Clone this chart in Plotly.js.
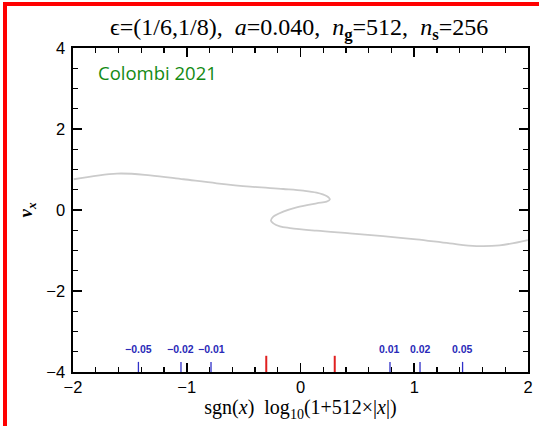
<!DOCTYPE html>
<html>
<head>
<meta charset="utf-8">
<script src="https://cdn.plot.ly/plotly-3.0.1.min.js"></script>
<style>
html,body{margin:0;padding:0;background:#fff;}
#wrap{position:relative;width:539px;height:426px;}
#chart{width:539px;height:426px;}
#frame{position:absolute;left:3px;top:2px;width:540px;height:430px;border-left:4px solid #ff0000;border-top:4px solid #ff0000;pointer-events:none;box-sizing:border-box;}
</style>
</head>
<body>
<div id="wrap"><div id="chart"></div><div id="frame"></div></div>
<script>
// Phase-space curve
const curveX = [-1.994,-1.614,-1.322,-1.029,-0.737,-0.444,-0.152,0.024,0.141,0.229,0.258,0.229,0.141,-0.034,-0.152,-0.239,-0.260,-0.239,-0.181,-0.093,0.141,0.434,0.726,1.019,1.311,1.545,1.750,1.998];
const curveY = [0.759,0.899,0.857,0.759,0.660,0.577,0.519,0.478,0.429,0.346,0.264,0.206,0.165,0.066,-0.041,-0.165,-0.264,-0.330,-0.404,-0.445,-0.511,-0.577,-0.644,-0.726,-0.824,-0.890,-0.874,-0.742];

// Reference marks on the x axis: values of x and their labels
const refValues = [-0.05,-0.02,-0.01,0.01,0.02,0.05];
const refLabels = ['\u22120.05','\u22120.02','\u22120.01','0.01','0.02','0.05'];
const cellValues = [-1/512, 1/512];
const ng = 512;

function mapX(v){ return Math.sign(v)*Math.log10(1+ng*Math.abs(v)); }

const blueX = [], blueY = [];
refValues.forEach(v=>{ const m=mapX(v); blueX.push(m,m,null); blueY.push(-4,-3.75,null); });
const redX = [], redY = [];
cellValues.forEach(v=>{ const m=mapX(v); redX.push(m,m,null); redY.push(-4,-3.6,null); });

const traces = [
  {x:curveX, y:curveY, mode:'lines', line:{color:'#cbcbcb', width:1.8, shape:'spline', smoothing:1}, hoverinfo:'skip'},
  {x:blueX, y:blueY, mode:'lines', line:{color:'#3030c8', width:1.3}, hoverinfo:'skip'},
  {x:redX, y:redY, mode:'lines', line:{color:'#e02020', width:2}, hoverinfo:'skip'}
];

const annotations = refValues.map((v,i)=>({
  x: mapX(v), y: -3.44, xref:'x', yref:'y', text:'<b>'+refLabels[i]+'</b>', showarrow:false,
  font:{family:'Liberation Sans, Arial, sans-serif', size:10.5, color:'#2a2ab8'}, xanchor:'center', yanchor:'middle'
}));
annotations.push({x:-1.80, y:3.39, xref:'x', yref:'y', text:'Colombi 2021', showarrow:false,
  font:{family:'Open Sans, Noto Sans, sans-serif', size:18.5, color:'#138a13'}, xanchor:'left', yanchor:'middle'});

const axisCommon = {
  showline:true, linecolor:'#000', linewidth:1.6, mirror:'ticks', ticks:'inside', ticklen:9, tickwidth:1.6, tickcolor:'#000',
  showgrid:false, zeroline:false, tickmode:'linear', tick0:0,
  tickfont:{family:'Liberation Sans, Arial, sans-serif', size:16.5, color:'#000'}
};

const layout = {
  width:539, height:426,
  margin:{l:73, r:10.5, t:48, b:54},
  paper_bgcolor:'#fff', plot_bgcolor:'#fff',
  showlegend:false,
  title:{text:'\u03f5=(1/6,1/8),\u00a0\u00a0<i>a</i>=0.040,\u00a0\u00a0<i>n</i><sub><b>g</b></sub>=512,\u00a0\u00a0<i>n</i><sub><b>s</b></sub>=256',
    font:{family:'Liberation Serif, DejaVu Serif, serif', size:24, color:'#000'}, x:0.555, xanchor:'center', y:0.938, yanchor:'middle'},
  xaxis:Object.assign({}, axisCommon, {range:[-2,2], dtick:1,
    minor:{tickmode:'linear', dtick:0.2, tick0:0, ticks:'inside', ticklen:5, tickwidth:1.4, tickcolor:'#000'},
    title:{text:'sgn(<i>x</i>)\u00a0\u00a0log<sub>10</sub>(1+512\u00d7|<i>x</i>|)', font:{family:'Liberation Serif, DejaVu Serif, serif', size:20, color:'#000'}, standoff:3}}),
  yaxis:Object.assign({}, axisCommon, {range:[-4,4], dtick:2, ticklabelstandoff:3,
    minor:{tickmode:'linear', dtick:0.5, tick0:0, ticks:'inside', ticklen:5, tickwidth:1.4, tickcolor:'#000'},
    title:{text:'<b><i>v<sub>x</sub></i></b>', font:{family:'Liberation Serif, DejaVu Serif, serif', size:19, color:'#000'}, standoff:8}}),
  annotations:annotations
};

Plotly.newPlot('chart', traces, layout, {staticPlot:true, displayModeBar:false});
</script>
</body>
</html>
